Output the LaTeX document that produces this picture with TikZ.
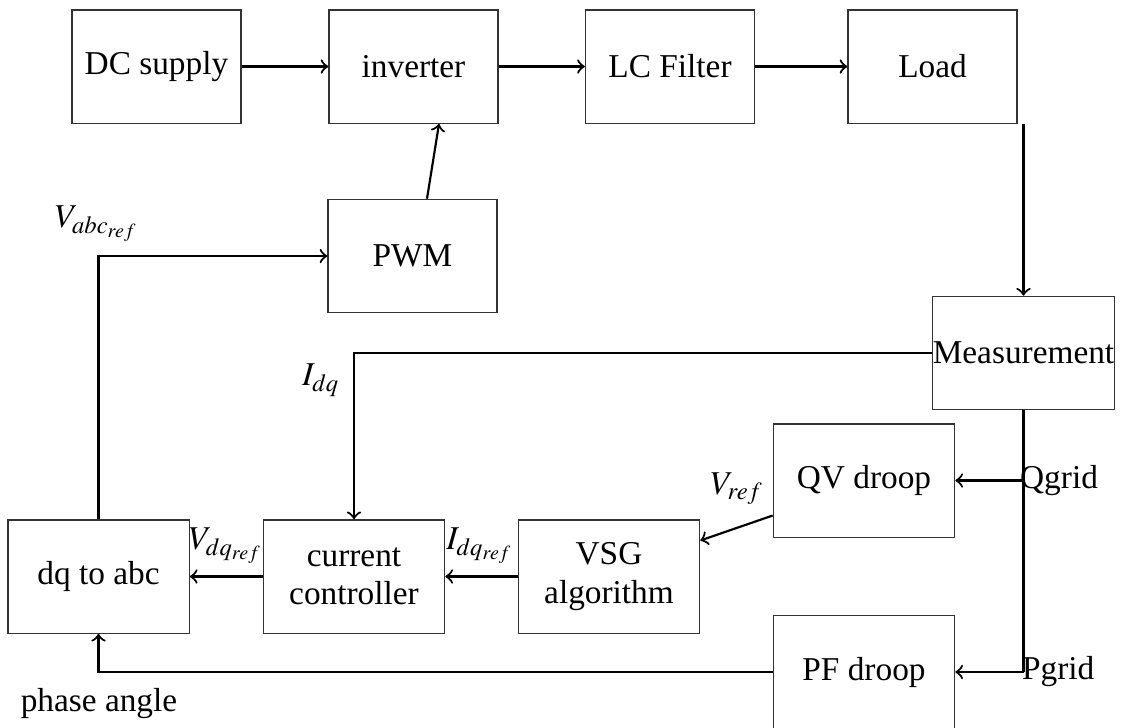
\documentclass[tikz,border=0pt]{standalone}
\usepackage{mathptmx}
\usepackage{fontspec}
\setmainfont{Liberation Serif}
\usetikzlibrary{calc}
\tikzset{
  blk/.style={draw=black!80, line width=0.4pt, rectangle, inner sep=0pt, align=center,
              minimum width=50.7pt, minimum height=34pt, font=\fontsize{10}{11.5}\selectfont},
  wblk/.style={blk, minimum width=54.4pt},
  conn/.style={->, line width=0.65pt},
  wire/.style={line width=0.65pt},
  lbl/.style={inner sep=0pt, font=\fontsize{10}{11.5}\selectfont}
}
\begin{document}
\begin{tikzpicture}[x=0.3pt, y=-0.3pt]
\useasboundingbox (0,0) rectangle (1127,727);

% power path
\node[blk] (dc)   at (156.5,66.5) {DC supply};
\node[blk] (inv)  at (413.5,66.5) {inverter};
\node[blk] (lc)   at (670,66.5)   {LC Filter};
\node[blk] (load) at (932.5,66.5) {Load};
\node[blk] (pwm)  at (412.5,256)  {PWM};

% control blocks
\node[wblk] (meas) at (1023.5,353) {Measurement};
\node[wblk] (qv)   at (864,480.5)  {QV droop};
\node[wblk] (vsg)  at (609,576.5)  {VSG\\algorithm};
\node[wblk] (cc)   at (354,576.5)  {current\\controller};
\node[wblk] (dq)   at (98.5,576.5) {dq to abc};
\node[wblk] (pf)   at (864,672)    {PF droop};

% taps on the measurement bus
\coordinate (qtap) at (qv.east -| meas.south);
\coordinate (ptap) at (pf.east -| meas.south);

% connectors
\draw[conn] (dc) -- (inv);
\draw[conn] (inv) -- (lc);
\draw[conn] (lc) -- (load);
\draw[conn] ($(pwm.north)+(14.5,0)$) -- ($(inv.south)+(25.5,0)$);
\draw[conn] (load.south -| meas.north) -- (meas.north);
\draw[conn] (meas.west) -| (cc.north);
\draw[wire] (meas.south) -- (ptap);
\draw[conn] (qtap) -- (qv.east);
\draw[conn] (ptap) -- (pf.east);
\draw[conn] ($(qv.west)+(0,35)$) -- ($(vsg.east)+(0,-36)$);
\draw[conn] (vsg) -- (cc);
\draw[conn] (cc) -- (dq);
\draw[conn] (dq.north) |- (pwm.west);
\draw[conn] (pf.west) -| (dq.south);

% signal labels
\node[lbl, anchor=west] (qg) at ($(qtap)+(-4,0)$) {Qgrid};
\node[lbl, anchor=west] (pg) at ($(ptap)+(-2,0)$) {Pgrid};
\node[lbl] (vref)  at (737,489)  {$V_{ref}$};
\node[lbl] (idqr)  at (480,546)  {$I_{dq_{ref}}$};
\node[lbl] (vdqr)  at (226,546)  {$V_{dq_{ref}}$};
\node[lbl] (vabcr) at (97,224)   {$V_{abc_{ref}}$};
\node[lbl] (idq)   at (321,380)  {$I_{dq}$};
\node[lbl] (ph)    at (99,704)   {phase angle};
\end{tikzpicture}
\end{document}
